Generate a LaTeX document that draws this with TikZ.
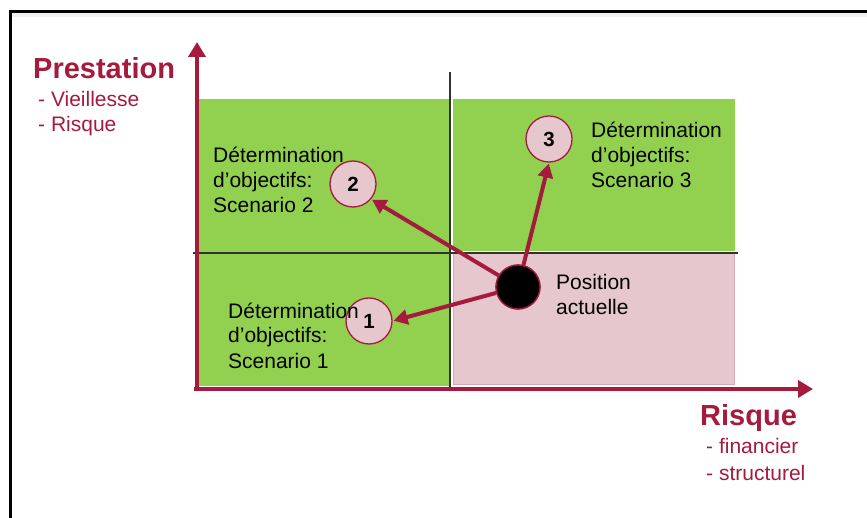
\documentclass[tikz,border=0pt]{standalone}
\usepackage{fontspec}
\setmainfont{Liberation Sans}
\usetikzlibrary{arrows.meta}
\definecolor{crim}{RGB}{165,27,61}
\definecolor{lgreen}{RGB}{146,208,80}
\definecolor{lpink}{RGB}{230,199,206}
\definecolor{pinkedge}{RGB}{214,170,182}
\tikzset{
  axisline/.style={draw=crim, line width=4pt, -{Triangle[length=15pt,width=17pt]}},
  movearrow/.style={draw=crim, line width=4pt, -{Triangle[length=14pt,width=15pt]}, shorten >=1pt},
  numcircle/.style={circle, draw=crim, line width=1.3pt, fill=lpink, minimum size=46pt, inner sep=0pt, font=\bfseries\fontsize{20.5}{20.5}\selectfont},
  poscircle/.style={circle, draw=crim, line width=1.3pt, fill=black, minimum size=44pt, inner sep=0pt},
  bodytext/.style={anchor=base west, align=left, inner sep=0pt, font=\fontsize{21}{25}\selectfont},
  redtitle/.style={anchor=base west, inner sep=0pt, text=crim, font=\bfseries\fontsize{29}{29}\selectfont},
  redsub/.style={anchor=base west, align=left, inner sep=0pt, text=crim},
  gridline/.style={draw={rgb,255:red,50;green,50;blue,50}, line width=1.2pt},
}
\begin{document}
\begin{tikzpicture}[x=1pt,y=-1pt]
\useasboundingbox (0,0) rectangle (867,518);
\fill[white] (0,0) rectangle (867,518);
% frame
\fill[black!6] (12,13) rectangle (867,17);
\draw[black, line width=3pt] (10,518) -- (10,12) -- (867,12);
% regions
\fill[lgreen] (199,99) rectangle (451,386);
\fill[lgreen] (453,99) rectangle (735,251);
\fill[lpink, draw=pinkedge, line width=1pt] (453,254) rectangle (734,384);
% grid lines
\draw[gridline] (193,253) -- (738,253);
\draw[gridline] (450,72) -- (450,389);
% axes
\coordinate (origin) at (197,390);
\coordinate (ytip) at (197,42);
\coordinate (xorigin) at (194,389);
\coordinate (xtip) at (813,389);
\draw[axisline] (origin) -- (ytip);
\draw[axisline] (xorigin) -- (xtip);
% circles
\node[poscircle] (pos) at (518,287) {};
\node[numcircle] (c1) at (369,321) {1};
\node[numcircle] (c2) at (353,184) {2};
\node[numcircle] (c3) at (549,139) {3};
% arrows
\draw[movearrow] (pos) -- (c1.east);
\draw[movearrow] (pos) -- (c2.-40);
\draw[movearrow] (pos) -- (c3.south);
\node[poscircle] (posb) at (pos) {};
% texts (anchor = baseline of last line)
\node[bodytext] (t1) at (228,368) {Détermination\\d’objectifs:\\Scenario 1};
\node[bodytext] (t2) at (213,213) {Détermination\\d’objectifs:\\Scenario 2};
\node[bodytext] (t3) at (591,188) {Détermination\\d’objectifs:\\Scenario 3};
\node[bodytext] (tp) at (556,315) {Position\\actuelle};
\node[redtitle] (prest) at (33,79) {Prestation};
\node[redsub, font=\fontsize{21}{25}\selectfont] (prestsub) at (38,132) {- Vieillesse\\- Risque};
\node[redtitle] (risq) at (700,425) {Risque};
\node[redsub, font=\fontsize{21}{27}\selectfont] (risqsub) at (706,480) {- financier\\- structurel};
\end{tikzpicture}
\end{document}
